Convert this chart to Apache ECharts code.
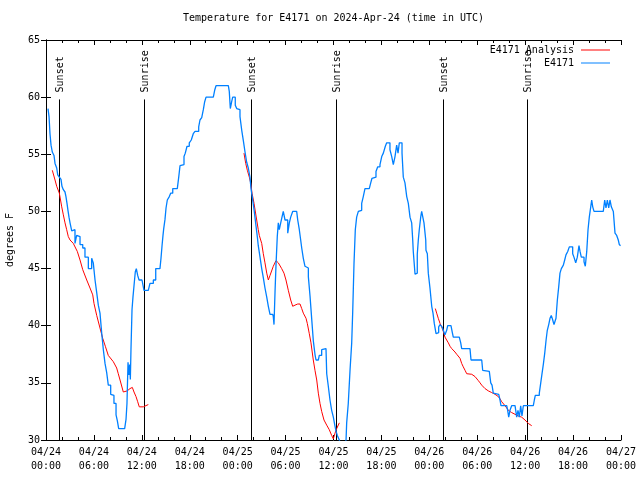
<!DOCTYPE html>
<html>
<head>
<meta charset="utf-8">
<script src="https://cdn.jsdelivr.net/npm/echarts@6/dist/echarts.min.js"></script>
<style>
html,body{margin:0;padding:0;background:#fff;}
#chart{width:640px;height:480px;}
</style>
</head>
<body>
<div id="chart"></div>
<script>
// Hours since 2024-04-24 00:00 UTC
const xTickLabels = ["04/24\n00:00","04/24\n06:00","04/24\n12:00","04/24\n18:00","04/25\n00:00","04/25\n06:00","04/25\n12:00","04/25\n18:00","04/26\n00:00","04/26\n06:00","04/26\n12:00","04/26\n18:00","04/27\n00:00"];
const yTicks = [30,35,40,45,50,55,60,65];

// Observed E4171 (hour, degF)
const obsHours = [0.25,0.38,0.5,0.63,0.79,1.0,1.13,1.34,1.47,1.67,1.88,2.0,2.17,2.38,2.5,2.63,2.75,2.88,3.01,3.22,3.42,3.63,3.84,4.04,4.26,4.6,4.88,5.3,5.72,5.92,6.14,6.35,6.55,6.76,6.97,7.18,7.39,7.6,7.8,8.1,8.35,8.51,8.77,8.93,9.1,9.85,10.02,10.14,10.27,10.39,10.48,10.56,10.64,10.77,10.89,11.02,11.18,11.31,11.48,11.65,12.02,12.27,12.81,13.02,13.44,13.74,14.27,14.4,14.53,14.65,14.74,14.9,15.03,15.19,15.44,15.61,15.87,16.44,16.62,16.78,17.03,17.28,17.44,17.66,17.94,18.19,18.44,18.66,19.12,19.28,19.5,19.7,19.87,20.04,20.95,21.12,21.29,22.83,22.95,23.08,23.25,23.38,23.58,23.7,23.88,24.13,24.29,24.51,24.71,24.92,25.13,25.33,25.54,25.67,25.88,26.08,26.3,26.46,26.58,26.8,27.01,27.21,27.42,27.64,27.84,28.05,28.39,28.46,28.55,28.68,28.8,28.96,29.09,29.21,29.39,29.55,29.71,29.93,30.27,30.47,30.64,30.89,31.39,31.52,31.72,31.89,32.02,32.22,32.43,32.64,32.85,33.06,33.27,33.47,33.68,33.81,34.1,34.22,34.52,34.65,35.06,35.15,35.35,35.56,35.77,35.98,36.19,36.31,36.48,36.73,36.88,37.38,37.57,37.65,37.85,38.07,38.28,38.4,38.57,38.73,38.9,39.11,39.32,39.53,39.73,39.94,40.48,40.66,40.82,41.07,41.32,41.54,41.82,42.04,42.24,42.49,42.66,42.91,43.07,43.29,43.49,43.7,43.91,44.08,44.24,44.45,44.58,44.74,44.95,45.17,45.37,45.58,45.79,45.92,45.99,46.21,46.33,46.49,46.62,46.74,46.92,47.04,47.25,47.33,47.55,47.58,47.75,47.87,48.08,48.3,48.46,48.62,48.84,49.0,49.17,49.34,49.59,49.75,49.96,50.17,50.3,50.71,50.88,51.0,51.75,51.93,52.05,53.09,53.22,54.56,54.68,54.76,55.51,55.69,55.85,56.01,56.19,56.69,56.85,56.97,57.69,57.81,57.94,58.1,58.31,58.73,58.94,59.1,59.27,59.44,59.6,59.77,61.02,61.15,61.27,61.77,61.95,62.11,62.27,62.45,62.62,62.77,62.95,63.11,63.27,63.45,63.61,63.86,64.03,64.2,64.36,64.53,64.78,64.95,65.11,65.33,65.53,65.78,65.95,66.11,66.33,66.53,66.74,66.87,67.03,67.37,67.53,67.71,67.87,68.03,68.21,68.33,68.46,68.62,69.78,69.96,70.12,70.29,70.46,70.62,70.79,71.04,71.25,71.46,71.66,71.79,71.94];
const obsTemps = [59.0,58.3,56.8,55.8,55.2,54.9,54.2,53.8,53.2,53.0,52.8,52.2,51.9,51.7,51.3,50.7,50.1,49.5,49.0,48.3,48.4,47.2,47.9,47.8,47.1,46.8,46.0,45.0,45.9,45.5,44.0,42.9,41.8,41.1,39.4,37.9,36.7,35.9,34.8,34.0,33.9,33.2,32.2,31.7,31.0,31.0,31.8,33.2,36.8,35.7,36.6,35.3,37.9,41.4,42.5,43.5,44.7,45.0,44.4,44.0,43.9,43.1,43.0,43.7,44.0,45.0,45.0,45.9,47.0,47.9,48.5,49.3,50.3,51.0,51.3,51.6,52.0,52.0,53.0,54.0,54.1,54.8,55.1,55.7,56.0,56.25,56.8,57.0,57.4,58.0,58.2,58.9,59.6,60.0,60.0,60.6,61.0,61.0,60.5,59.0,59.6,60.0,60.0,59.3,59.0,58.9,58.3,57.1,56.2,55.2,54.3,53.8,53.0,52.0,51.0,50.0,48.7,47.8,47.0,46.0,45.0,44.2,43.3,42.5,41.7,41.0,40.9,40.8,40.1,43.0,45.3,47.8,49.0,48.4,49.0,49.5,50.0,49.25,48.1,49.0,49.5,50.0,50.0,49.25,48.4,47.5,46.8,45.9,45.2,45.05,44.3,42.6,40.6,38.7,37.5,37.0,37.0,37.4,37.9,38.0,38.0,35.8,34.7,33.5,32.6,32.0,31.2,30.8,30.4,30.0,29.6,29.6,30.0,31.5,33.2,36.1,38.5,41.1,45.5,48.4,49.5,50.0,50.1,50.7,51.3,52.0,52.0,52.5,52.9,53.0,53.5,53.9,54.1,54.8,55.1,55.7,56.0,56.0,55.4,54.8,54.1,54.8,55.8,55.1,56.0,56.0,55.1,53.0,52.5,51.3,50.7,49.5,49.0,47.5,46.5,44.5,44.6,46.25,47.5,48.4,49.5,50.0,50.0,49.0,47.5,46.6,46.3,44.6,43.3,41.7,41.1,40.2,39.3,39.4,39.9,40.1,39.9,39.6,39.2,39.6,40.0,40.0,39.4,39.0,39.0,38.5,38.0,38.0,37.0,37.0,36.1,36.0,36.0,35.0,34.8,34.1,34.0,34.0,33.5,33.0,33.0,32.6,32.0,32.6,33.0,33.0,32.0,32.6,32.0,33.0,32.1,33.0,33.0,33.5,33.9,34.1,35.0,35.8,36.6,37.6,38.75,39.6,40.1,40.65,40.9,40.5,40.1,40.65,42.25,43.4,44.6,45.0,45.3,45.75,46.2,46.5,46.9,46.9,46.3,46.0,45.5,46.0,47.0,46.5,46.0,45.6,45.2,46.5,48.4,49.5,50.4,51.0,50.4,50.0,50.0,51.0,50.3,51.0,50.3,51.0,50.4,50.0,48.1,47.9,47.5,47.1,47.0];

// Analysis E4171 (hour, degF); null = gap between runs
const anaHours = [0.79,1.13,1.34,1.67,1.97,2.17,2.38,2.59,2.79,3.01,3.22,3.42,3.63,3.92,4.26,4.6,5.1,5.51,5.85,6.01,6.35,6.76,7.1,7.43,7.8,8.43,8.85,9.05,9.27,9.68,9.89,10.18,10.52,10.81,11.02,11.27,11.48,11.68,11.86,12.18,12.81,
  18,
  24.79,25.01,25.21,25.46,25.63,25.8,26.05,26.3,26.58,26.71,27.01,27.21,27.42,27.64,27.84,28.05,28.46,28.8,29.09,29.51,29.8,30.05,30.34,30.64,30.89,31.18,31.52,31.81,32.02,32.22,32.56,32.72,32.97,33.18,33.47,33.68,33.9,34.1,34.31,34.52,34.81,35.15,35.47,35.77,35.98,36.19,36.4,36.73,
  42,
  48.75,48.92,49.12,49.34,49.55,49.75,49.96,50.17,50.38,50.59,50.8,51.0,51.21,51.43,51.63,51.84,52.05,52.25,52.47,52.68,52.88,53.31,53.51,53.72,53.93,54.13,54.35,54.56,54.76,54.97,55.18,55.38,55.6,55.81,56.01,56.22,56.44,56.64,56.85,57.06,57.26,57.48,57.69,57.89,58.1,58.31,58.51,58.73,58.94,59.14,59.35,59.56,59.77,59.98,60.19,60.39,60.61,60.82];
const anaTemps = [53.6,52.75,52.2,51.6,50.4,49.7,49.0,48.4,47.8,47.5,47.35,47.2,47.1,46.5,45.75,44.9,44.0,43.3,42.7,41.95,40.9,39.8,38.9,38.2,37.4,36.85,36.3,35.8,35.25,34.2,34.1,34.3,34.5,34.6,34.2,33.8,33.35,32.9,32.8,32.9,33.1,
  null,
  55.1,54.2,53.6,53.0,52.5,51.6,50.7,49.6,48.4,47.9,47.2,46.3,45.5,44.6,44.0,44.4,45.2,45.7,45.5,45.0,44.6,44.0,43.1,42.25,41.7,41.8,41.9,41.9,41.5,41.1,40.65,40.2,39.3,38.5,37.0,36.1,35.25,34.1,33.2,32.5,31.75,31.3,30.9,30.4,30.1,30.6,31.0,31.5,
  null,
  41.5,41.1,40.65,40.2,39.9,39.5,39.0,38.75,38.5,38.2,38.0,37.85,37.7,37.5,37.35,37.15,36.7,36.4,36.1,35.8,35.75,35.75,35.7,35.55,35.4,35.2,35.0,34.8,34.65,34.5,34.4,34.3,34.2,34.15,34.05,34.0,33.9,33.8,33.6,33.35,33.2,33.0,32.8,32.6,32.5,32.4,32.3,32.25,32.2,32.1,32.05,32.0,31.9,31.75,31.6,31.45,31.3,31.25];

// Sun events
const sunHours = [1.67, 12.31, 25.71, 36.35, 49.75, 60.27];
const sunLabels = ["Sunset","Sunrise","Sunset","Sunrise","Sunset","Sunrise"];
const sunLineTop = 59.8;

const FONT = "'DejaVu Sans Mono', 'Liberation Mono', monospace";
const chart = echarts.init(document.getElementById('chart'), null, {renderer: 'canvas'});

const obsData = obsHours.map((h, i) => [h, obsTemps[i]]);
const anaData = anaHours.map((h, i) => anaTemps[i] === null ? [h, null] : [h, anaTemps[i]]);
const sunData = sunHours.map((h, i) => [h, i]);

const axisLine = {show: true, lineStyle: {color: '#000', width: 1}};
const option = {
  backgroundColor: '#fff',
  animation: false,
  title: {
    text: 'Temperature for E4171 on 2024-Apr-24 (time in UTC)',
    left: 178, top: 8,
    textStyle: {fontFamily: FONT, fontSize: 10, fontWeight: 'normal', color: '#000'}
  },
  legend: {
    data: [{name: 'E4171 Analysis', icon: 'rect'}, {name: 'E4171', icon: 'rect'}],
    orient: 'vertical', right: 30, top: 44, align: 'right',
    itemWidth: 29, itemHeight: 1, itemGap: 1, padding: 0,
    textStyle: {fontFamily: FONT, fontSize: 10, color: '#000', padding: [0, 2, 0, 0], lineHeight: 12}
  },
  grid: {left: 46, right: 19, top: 40, bottom: 40, containLabel: false, outerBoundsMode: 'none'},
  xAxis: [{
    type: 'value', min: 0, max: 72, interval: 6, position: 'bottom',
    axisLine: axisLine,
    axisTick: {show: true, inside: true, length: 5, lineStyle: {color: '#000'}},
    minorTick: {show: true, splitNumber: 3, length: 3, lineStyle: {color: '#000'}},
    splitLine: {show: false},
    axisLabel: {
      margin: 5, fontFamily: FONT, fontSize: 10, color: '#000', lineHeight: 14,
      formatter: v => xTickLabels[Math.round(v / 6)]
    }
  }, {
    type: 'value', min: 0, max: 72, interval: 6, position: 'top',
    axisLine: axisLine,
    axisTick: {show: true, inside: true, length: 5, lineStyle: {color: '#000'}},
    minorTick: {show: true, splitNumber: 3, length: 3, lineStyle: {color: '#000'}},
    splitLine: {show: false}, axisLabel: {show: false}
  }],
  yAxis: [{
    type: 'value', min: 30, max: 65, interval: 5, position: 'left',
    name: 'degrees F', nameLocation: 'middle', nameRotate: 90, nameGap: 31,
    nameTextStyle: {fontFamily: FONT, fontSize: 10, color: '#000'},
    axisLine: axisLine,
    axisTick: {show: true, inside: true, length: 5, lineStyle: {color: '#000'}},
    splitLine: {show: false},
    axisLabel: {margin: 6, fontFamily: FONT, fontSize: 10, color: '#000',
      formatter: v => String(yTicks[yTicks.indexOf(v)])}
  }, {
    type: 'value', min: 30, max: 65, interval: 5, position: 'right',
    axisLine: axisLine,
    axisTick: {show: true, inside: true, length: 5, lineStyle: {color: '#000'}},
    splitLine: {show: false}, axisLabel: {show: false}
  }],
  series: [
    {
      type: 'custom', name: 'sun', xAxisIndex: 0, yAxisIndex: 0, z: 1,
      data: sunData, silent: true,
      renderItem: function (params, api) {
        const h = api.value(0);
        const top = api.coord([h, sunLineTop]);
        const bot = api.coord([h, 30]);
        const x = Math.round(top[0]) + 0.5;
        return {
          type: 'group',
          children: [
            {type: 'line', shape: {x1: x, y1: top[1], x2: x, y2: bot[1]},
             style: {stroke: '#000', lineWidth: 1}},
            {type: 'text', x: x + 1, y: top[1] - 7, rotation: Math.PI / 2,
             style: {text: sunLabels[params.dataIndex], font: '10px ' + FONT,
                     fill: '#000', align: 'left', verticalAlign: 'middle'}}
          ]
        };
      }
    },
    {
      name: 'E4171 Analysis', type: 'line', data: anaData, z: 2,
      xAxisIndex: 0, yAxisIndex: 0,
      showSymbol: false, symbol: 'none', connectNulls: false,
      lineStyle: {color: '#ff0000', width: 1}, itemStyle: {color: '#ff0000'}
    },
    {
      name: 'E4171', type: 'line', data: obsData, z: 3, step: 'end',
      xAxisIndex: 0, yAxisIndex: 0,
      showSymbol: false, symbol: 'none',
      lineStyle: {color: '#0080ff', width: 1.3}, itemStyle: {color: '#0080ff'}
    }
  ]
};
chart.setOption(option);
</script>
</body>
</html>
